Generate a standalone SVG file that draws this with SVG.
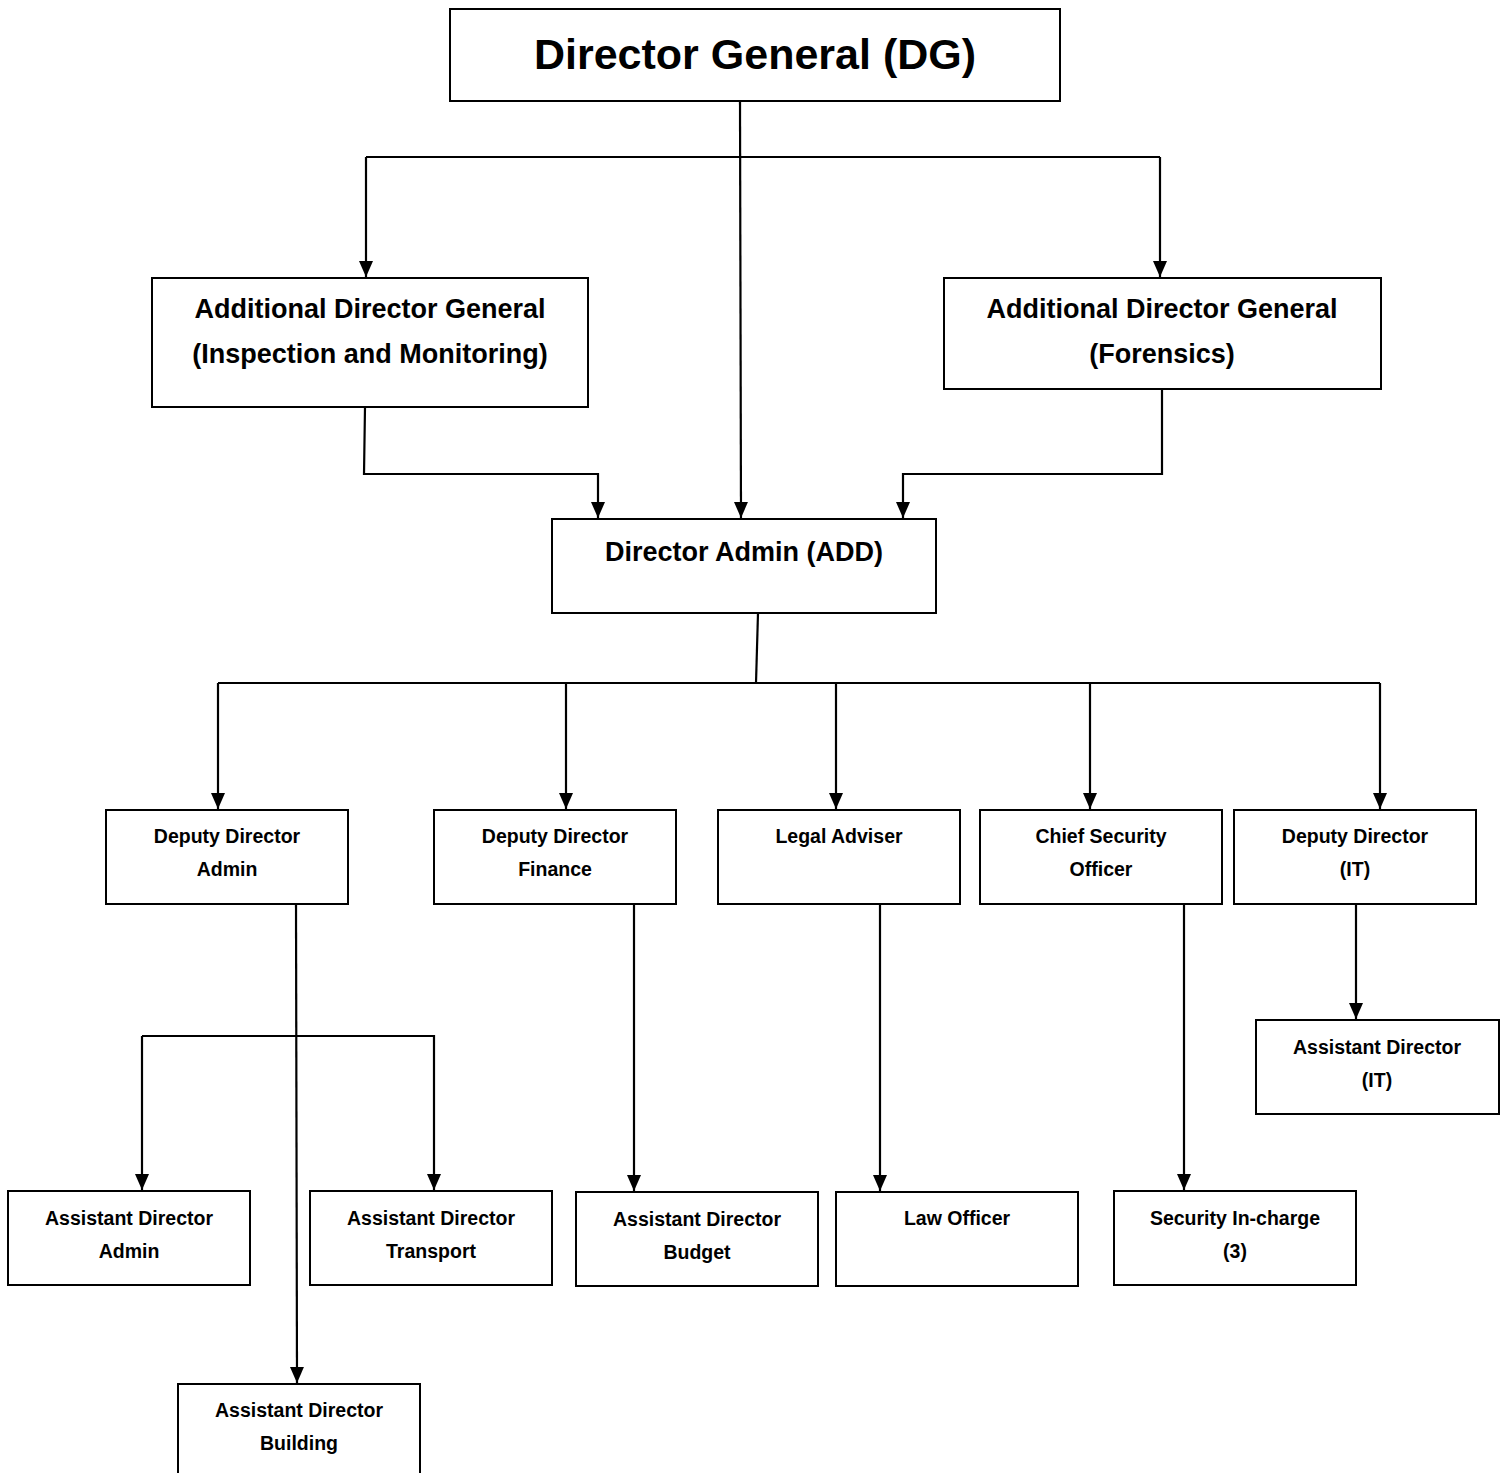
<svg xmlns="http://www.w3.org/2000/svg" width="1510" height="1473" viewBox="0 0 1510 1473">
<style>
.box{fill:#fff;stroke:#000;stroke-width:2}
.t{font-family:"Liberation Sans",Arial,sans-serif;font-weight:bold;text-anchor:middle;fill:#000}
.t1{font-size:43px}
.t2{font-size:27px}
.t3{font-size:19.5px}
.c{fill:none;stroke:#000;stroke-width:2.2}
</style>
<defs>
<marker id="ah" markerUnits="userSpaceOnUse" markerWidth="16" markerHeight="14" refX="16" refY="7" orient="auto" viewBox="0 0 16 14">
<path d="M0,0 L16,7 L0,14 Z" fill="#000"/>
</marker>
</defs>
<rect width="1510" height="1473" fill="#fff"/>
<g id="connectors">
<path class="c" d="M740,101 L741,518" marker-end="url(#ah)"/>
<path class="c" d="M366,157 L1160,157"/>
<path class="c" d="M366,157 L366,277" marker-end="url(#ah)"/>
<path class="c" d="M1160,157 L1160,277" marker-end="url(#ah)"/>
<path class="c" d="M365,407 L364,474 L598,474 L598,518" marker-end="url(#ah)"/>
<path class="c" d="M1162,389 L1162,474 L903,474 L903,518" marker-end="url(#ah)"/>
<path class="c" d="M758,613 L756,683"/>
<path class="c" d="M218,683 L1380,683"/>
<path class="c" d="M218,683 L218,809" marker-end="url(#ah)"/>
<path class="c" d="M566,683 L566,809" marker-end="url(#ah)"/>
<path class="c" d="M836,683 L836,809" marker-end="url(#ah)"/>
<path class="c" d="M1090,683 L1090,809" marker-end="url(#ah)"/>
<path class="c" d="M1380,683 L1380,809" marker-end="url(#ah)"/>
<path class="c" d="M296,904 L297,1383" marker-end="url(#ah)"/>
<path class="c" d="M142,1036 L434,1036 L434,1190" marker-end="url(#ah)"/>
<path class="c" d="M142,1036 L142,1190" marker-end="url(#ah)"/>
<path class="c" d="M634,904 L634,1191" marker-end="url(#ah)"/>
<path class="c" d="M880,904 L880,1191" marker-end="url(#ah)"/>
<path class="c" d="M1184,904 L1184,1190" marker-end="url(#ah)"/>
<path class="c" d="M1356,904 L1356,1019" marker-end="url(#ah)"/>
</g>
<g id="dg"><rect class="box" x="450" y="9" width="610" height="92"/><text class="t t1" x="755" y="69">Director General (DG)</text></g>
<g id="adg-im"><rect class="box" x="152" y="278" width="436" height="129"/><text class="t t2" x="370" y="318">Additional Director General</text><text class="t t2" x="370" y="363">(Inspection and Monitoring)</text></g>
<g id="adg-f"><rect class="box" x="944" y="278" width="437" height="111"/><text class="t t2" x="1162" y="318">Additional Director General</text><text class="t t2" x="1162" y="363">(Forensics)</text></g>
<g id="da"><rect class="box" x="552" y="519" width="384" height="94"/><text class="t t2" x="744" y="561">Director Admin (ADD)</text></g>
<g id="dd-admin"><rect class="box" x="106" y="810" width="242" height="94"/><text class="t t3" x="227" y="843">Deputy Director</text><text class="t t3" x="227" y="876">Admin</text></g>
<g id="dd-fin"><rect class="box" x="434" y="810" width="242" height="94"/><text class="t t3" x="555" y="843">Deputy Director</text><text class="t t3" x="555" y="876">Finance</text></g>
<g id="legal"><rect class="box" x="718" y="810" width="242" height="94"/><text class="t t3" x="839" y="843">Legal Adviser</text></g>
<g id="cso"><rect class="box" x="980" y="810" width="242" height="94"/><text class="t t3" x="1101" y="843">Chief Security</text><text class="t t3" x="1101" y="876">Officer</text></g>
<g id="dd-it"><rect class="box" x="1234" y="810" width="242" height="94"/><text class="t t3" x="1355" y="843">Deputy Director</text><text class="t t3" x="1355" y="876">(IT)</text></g>
<g id="ad-it"><rect class="box" x="1256" y="1020" width="243" height="94"/><text class="t t3" x="1377" y="1054">Assistant Director</text><text class="t t3" x="1377" y="1087">(IT)</text></g>
<g id="ad-admin"><rect class="box" x="8" y="1191" width="242" height="94"/><text class="t t3" x="129" y="1225">Assistant Director</text><text class="t t3" x="129" y="1258">Admin</text></g>
<g id="ad-transport"><rect class="box" x="310" y="1191" width="242" height="94"/><text class="t t3" x="431" y="1225">Assistant Director</text><text class="t t3" x="431" y="1258">Transport</text></g>
<g id="ad-budget"><rect class="box" x="576" y="1192" width="242" height="94"/><text class="t t3" x="697" y="1226">Assistant Director</text><text class="t t3" x="697" y="1259">Budget</text></g>
<g id="law"><rect class="box" x="836" y="1192" width="242" height="94"/><text class="t t3" x="957" y="1225">Law Officer</text></g>
<g id="sec"><rect class="box" x="1114" y="1191" width="242" height="94"/><text class="t t3" x="1235" y="1225">Security In-charge</text><text class="t t3" x="1235" y="1258">(3)</text></g>
<g id="ad-building"><rect class="box" x="178" y="1384" width="242" height="100"/><text class="t t3" x="299" y="1417">Assistant Director</text><text class="t t3" x="299" y="1450">Building</text></g>
</svg>
